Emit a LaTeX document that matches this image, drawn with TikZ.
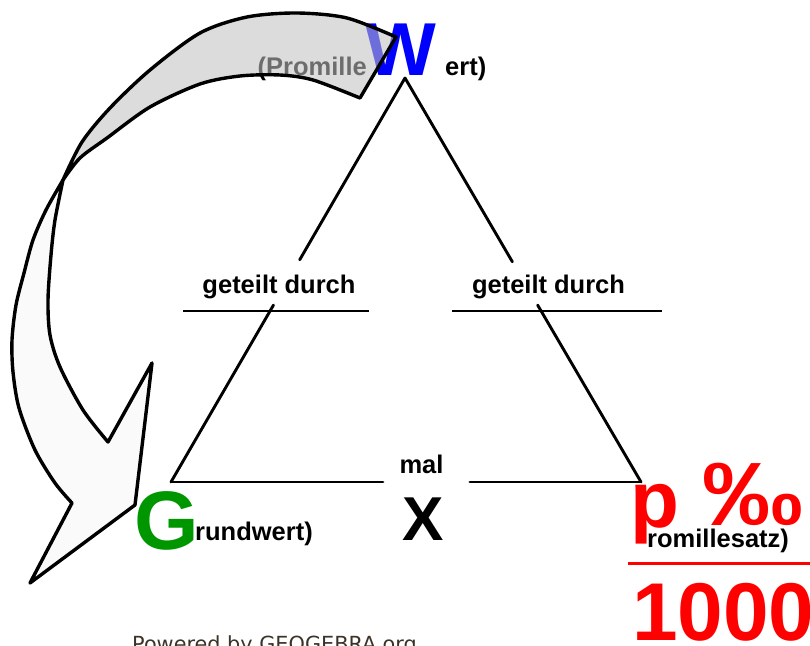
\documentclass[tikz,border=0pt]{standalone}
\usepackage{fontspec}
\setmainfont{Liberation Sans}
\newfontfamily\footfont{DejaVu Sans}
\usetikzlibrary{calc}
\definecolor{wblue}{RGB}{0,0,255}
\definecolor{ggreen}{RGB}{0,150,0}
\definecolor{pred}{RGB}{255,0,0}
\definecolor{bandgray}{RGB}{193,193,193}
\definecolor{headwhite}{RGB}{250,250,250}
\definecolor{footgray}{RGB}{60,50,40}

\begin{document}
\begin{tikzpicture}[x={(1pt,0)}, y={(0,-1pt)},
  side/.style={line width=2.9pt, line cap=round},
  lbl/.style={inner sep=0pt, font=\fontsize{25.5}{30}\selectfont\bfseries},
  big/.style={inner sep=0pt, font=\fontsize{#1}{#1}\selectfont\bfseries},
  outline/.style={line width=3.4pt, line join=round}]

\useasboundingbox (0,0) rectangle (810,645);
\clip (0,0) rectangle (810,645);

% corners of the triangle
\coordinate (apex) at (405,78);
\coordinate (gl) at (171,482);
\coordinate (gr) at (641,482);

% sides, interrupted by the labels
\draw[side] (apex) -- ($(apex)!0.45!(gl)$);
\draw[side] ($(apex)!0.562!(gl)$) -- (gl);
\draw[side] (apex) -- ($(apex)!0.455!(gr)$);
\draw[side] ($(apex)!0.562!(gr)$) -- (gr);
\draw[side] (gl) -- ($(gl)!0.451!(gr)$);
\draw[side] ($(gl)!0.636!(gr)$) -- (gr);

% division bars
\coordinate (dl1) at (183,311); \coordinate (dl2) at (369,311);
\coordinate (dr1) at (452,311); \coordinate (dr2) at (662,311);
\draw[side, line cap=butt] (dl1) -- (dl2);
\draw[side, line cap=butt] (dr1) -- (dr2);

\node[lbl, anchor=base] (divL) at (279,293) {geteilt durch};
\node[lbl, anchor=base] (divR) at (548.5,293) {geteilt durch};
\node[lbl, anchor=base] (mal) at (421.5,473) {mal};
\node[big=62, anchor=base] (times) at (423,540) {X};

% top corner: Wert
\node[lbl, anchor=base east] (prom) at (367,75) {(Promille};
\node[big=75, anchor=base west, text=wblue] (W) at (365,75) {W};
\node[lbl, anchor=base west] (ert) at (445,75) {ert)};

% left corner: Grundwert
\node[big=83, anchor=base west, text=ggreen] (G) at (134,549) {G};
\node[lbl, anchor=base west] (rund) at (195,540) {rundwert)};

% right corner: Promillesatz over 1000
\node[big=80, anchor=base west, text=pred] (p) at (630,527) {p};
\node[big=90, anchor=base west, text=pred, xscale=1.12] (pm) at (702,525) {‰};
\node[lbl, anchor=base west] (satz) at (647,547) {romillesatz)};
\coordinate (barL) at (628,563); \coordinate (barR) at (812,563);
\draw[pred, line width=3pt] (barL) -- (barR);
\node[big=82, anchor=base west, text=pred] (thou) at (632,640) {1000};

\node[inner sep=0pt, anchor=base west, text=footgray,
      font=\footfont\fontsize{20.8}{24}\selectfont] (foot) at (132,651)
      {Powered by GEOGEBRA.org};

% curved arrow: front part with the head
\filldraw[outline, fill=headwhite]
  (63,180) -- plot[smooth] coordinates {(63,180) (46,210) (33,240) (24,273)
    (16,305) (12,340) (13,372) (19,408) (35,450) (55,483) (72,503)}
  -- (30,583) -- (135,505) -- (152,363) -- (108,442)
  -- plot[smooth] coordinates {(108,442) (83,410) (60,367) (50,335)
    (48,300) (51,255) (55,220) (63,180)}
  -- cycle;

% curved arrow: back part with the tail, see-through
\filldraw[outline, fill=bandgray, fill opacity=0.57]
  (396,37) -- plot[smooth] coordinates {(396,37) (347,18) (297,13) (247,17)
    (200,33) (150,70) (110,108) (82,142) (63,180)}
  -- plot[smooth] coordinates {(63,180) (80,158) (107,138) (150,107)
    (200,84) (240,76) (280,75) (313,80) (360,98)}
  -- cycle;

\end{tikzpicture}
\end{document}
